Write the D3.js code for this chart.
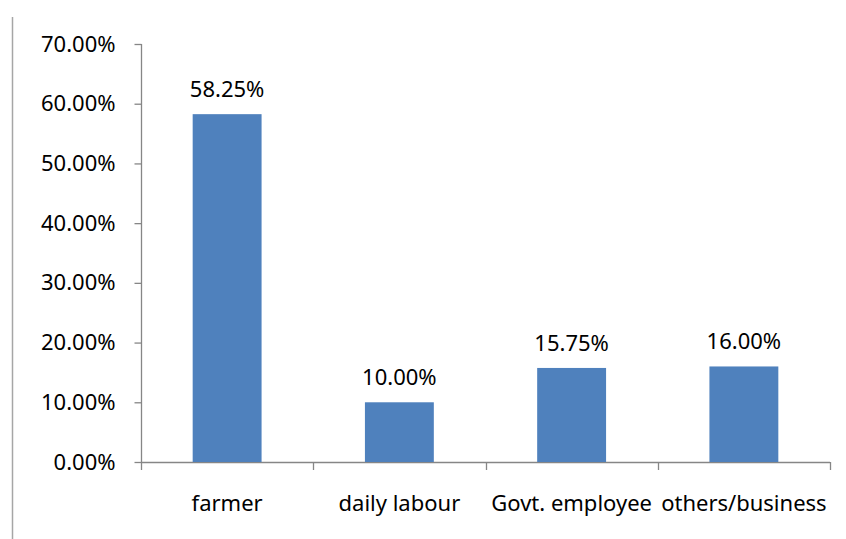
<!DOCTYPE html>
<html>
<head>
<meta charset="utf-8">
<script src="https://cdn.jsdelivr.net/npm/d3@7"></script>
<style>
  html, body { margin: 0; padding: 0; background: #fff; }
  svg text { font-family: "Noto Sans", "Open Sans", sans-serif; fill: #000; }
</style>
</head>
<body>
<svg id="chart" width="846" height="539"></svg>
<script>
// Occupation categories and their share of respondents (%)
const categories = ["farmer", "daily labour", "Govt. employee", "others/business"];
const values = [58.25, 10.00, 15.75, 16.00];
const yTicks = [0, 10, 20, 30, 40, 50, 60, 70];

const svg = d3.select("#chart");
const axisColor = "#868686";
const barColor = "#4F81BD";
const fontSize = 22;
const fontFamily = "'Noto Sans', 'Open Sans', sans-serif";

// Frame line on the left edge
svg.append("line")
  .attr("x1", 12.5).attr("x2", 12.5)
  .attr("y1", 17).attr("y2", 539)
  .attr("stroke", "#a6a6a6").attr("stroke-width", 1.5);

const x = d3.scaleBand()
  .domain(categories)
  .range([141, 830])
  .paddingInner(0.6)
  .paddingOuter(0.3);

const y = d3.scaleLinear()
  .domain([0, 70])
  .range([462, 44]);

// Y axis
const yAxis = d3.axisLeft(y)
  .tickValues(yTicks)
  .tickSize(7)
  .tickPadding(19)
  .tickFormat(d => d.toFixed(2) + "%");

const gy = svg.append("g")
  .attr("transform", "translate(141.5,0)")
  .call(yAxis);
gy.selectAll("path, line").attr("stroke", axisColor).attr("stroke-width", 1.3);
gy.select(".domain").attr("d", `M0,${y(70)}V${y(0)}`);
gy.selectAll("text")
  .style("font-size", fontSize + "px")
  .style("font-family", fontFamily)
  .attr("fill", "#000");

// X axis: ticks at category boundaries
const step = x.step();
const boundaries = d3.range(categories.length + 1).map(i => 141 + i * step);
const gx = svg.append("g");
gx.append("line")
  .attr("x1", 141).attr("x2", 830)
  .attr("y1", y(0) + 0.5).attr("y2", y(0) + 0.5)
  .attr("stroke", axisColor).attr("stroke-width", 1.3);
gx.selectAll("line.tick")
  .data(boundaries)
  .enter().append("line")
  .attr("class", "tick")
  .attr("x1", d => Math.round(d) + 0.5).attr("x2", d => Math.round(d) + 0.5)
  .attr("y1", y(0)).attr("y2", y(0) + 8)
  .attr("stroke", axisColor).attr("stroke-width", 1.3);

gx.selectAll("text.cat")
  .data(categories)
  .enter().append("text")
  .attr("class", "cat")
  .attr("x", d => x(d) + x.bandwidth() / 2)
  .attr("y", 511)
  .attr("text-anchor", "middle")
  .style("font-size", fontSize + "px")
  .text(d => d);

// Bars
svg.selectAll("rect.bar")
  .data(values)
  .enter().append("rect")
  .attr("class", "bar")
  .attr("x", (d, i) => x(categories[i]))
  .attr("y", d => y(d))
  .attr("width", x.bandwidth())
  .attr("height", d => y(0) - y(d))
  .attr("fill", barColor);

// Value labels
svg.selectAll("text.val")
  .data(values)
  .enter().append("text")
  .attr("class", "val")
  .attr("x", (d, i) => x(categories[i]) + x.bandwidth() / 2)
  .attr("y", d => y(d) - 17)
  .attr("text-anchor", "middle")
  .style("font-size", fontSize + "px")
  .text(d => d.toFixed(2) + "%");
</script>
</body>
</html>
